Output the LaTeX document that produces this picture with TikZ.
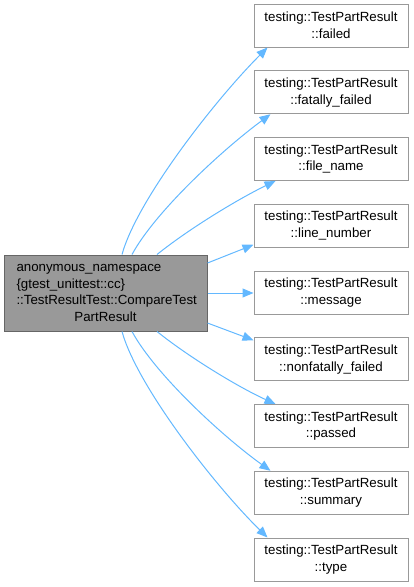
\documentclass[tikz,border=0pt]{standalone}
\usepackage{fontspec}
\setmainfont{Liberation Sans}
\usetikzlibrary{arrows.meta,calc}
\definecolor{edgeblue}{HTML}{63B8FF}
\definecolor{mainfill}{HTML}{999999}
\definecolor{mainborder}{HTML}{666666}
\definecolor{boxborder}{HTML}{999999}
\tikzset{
  txt/.style={font=\fontsize{13.3}{16.7}\selectfont},
  mainbox/.style={txt, draw=mainborder, fill=mainfill, line width=1pt, minimum width=203pt, minimum height=76pt, text width=178pt, align=left, inner sep=0pt},
  rbox/.style={txt, draw=boxborder, fill=white, line width=1pt, minimum width=154pt, minimum height=43pt, align=center, inner sep=0pt},
  edge/.style={draw=edgeblue, line width=1pt, -{Triangle[length=11pt,width=9pt]}}
}
\begin{document}
\begin{tikzpicture}[x=1pt,y=-1pt]
\useasboundingbox (0,0) rectangle (414,587);
\node[mainbox] (L) at (105.5,293) {anonymous\_namespace\\\{gtest\_unittest::cc\}\\::TestResultTest::CompareTest\\\makebox[\linewidth]{PartResult}};
\node[rbox] (f1) at (331,25.5) {testing::TestPartResult\\::failed};
\node[rbox] (f2) at (331,92.25) {testing::TestPartResult\\::fatally\_failed};
\node[rbox] (f3) at (331,159) {testing::TestPartResult\\::file\_name};
\node[rbox] (f4) at (331,225.75) {testing::TestPartResult\\::line\_number};
\node[rbox] (f5) at (331,292.5) {testing::TestPartResult\\::message};
\node[rbox] (f6) at (331,359.25) {testing::TestPartResult\\::nonfatally\_failed};
\node[rbox] (f7) at (331,426) {testing::TestPartResult\\::passed};
\node[rbox] (f8) at (331,492.75) {testing::TestPartResult\\::summary};
\node[rbox] (f9) at (331,559.5) {testing::TestPartResult\\::type};
\draw[edge] ($(L.north)+(16.5,0)$) .. controls (137,200) and (215,100) .. ($(f1.south west)+(14,0)$);
\draw[edge] ($(L.north)+(26.5,0)$) .. controls (155,212) and (222,150) .. ($(f2.south west)+(17,0)$);
\draw[edge] ($(L.north)+(51.5,0)$) .. controls (190,228) and (240,198) .. ($(f3.south west)+(22,0)$);
\draw[edge] ($(L.east)+(0,-30)$) -- ($(f4.west)+(0,19)$);
\draw[edge] (L.east) -- (L.east -| f5.west);
\draw[edge] ($(L.east)+(0,30)$) -- ($(f6.west)+(0,-19)$);
\draw[edge] ($(L.south)+(51.5,0)$) .. controls (190,358) and (240,388) .. ($(f7.north west)+(22,0)$);
\draw[edge] ($(L.south)+(26.5,0)$) .. controls (155,374) and (222,436) .. ($(f8.north west)+(17,0)$);
\draw[edge] ($(L.south)+(16.5,0)$) .. controls (137,386) and (215,486) .. ($(f9.north west)+(14,0)$);
\end{tikzpicture}
\end{document}
